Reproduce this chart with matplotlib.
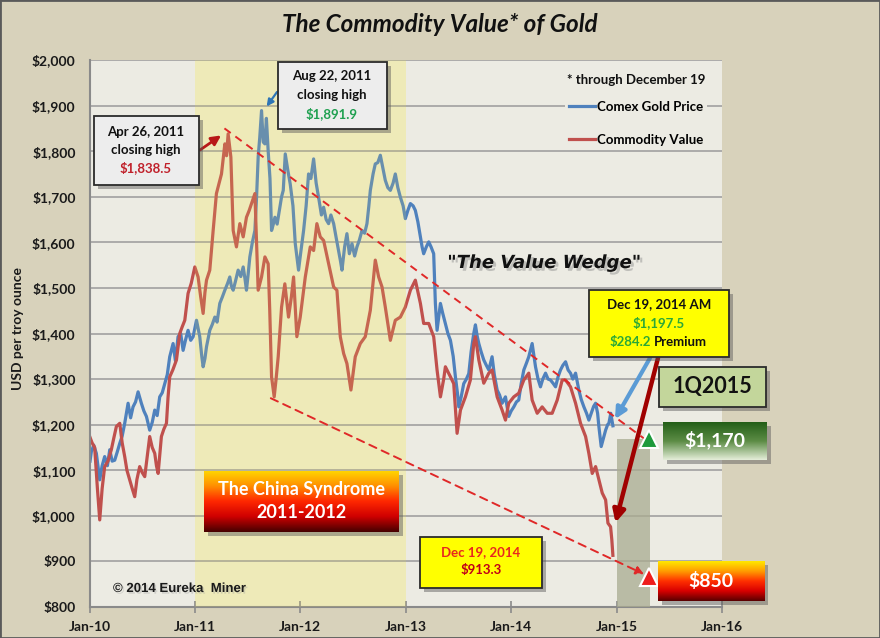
import numpy as np
import matplotlib.pyplot as plt
import matplotlib.patheffects as pe
from matplotlib.patches import Rectangle
from matplotlib.colors import LinearSegmentedColormap

# Comex gold price (decimal year, USD/oz)
gold_t = [2010.005, 2010.017, 2010.04, 2010.065, 2010.097, 2010.12, 2010.144, 2010.17, 2010.192, 2010.215,
          2010.239, 2010.263, 2010.287, 2010.31, 2010.334, 2010.366, 2010.39, 2010.413, 2010.437, 2010.461,
          2010.492, 2010.516, 2010.54, 2010.571, 2010.595, 2010.619, 2010.642, 2010.666, 2010.69, 2010.714,
          2010.738, 2010.761, 2010.793, 2010.815, 2010.84, 2010.865, 2010.888, 2010.91, 2010.935, 2010.96,
          2010.983, 2011.015, 2011.046, 2011.065, 2011.078, 2011.095, 2011.11, 2011.141, 2011.165, 2011.189,
          2011.21, 2011.236, 2011.26, 2011.284, 2011.31, 2011.331, 2011.345, 2011.363, 2011.385, 2011.41,
          2011.435, 2011.458, 2011.475, 2011.489, 2011.505, 2011.521, 2011.545, 2011.569, 2011.585, 2011.6,
          2011.615, 2011.632, 2011.648, 2011.664, 2011.678, 2011.695, 2011.712, 2011.727, 2011.744, 2011.759,
          2011.78, 2011.806, 2011.822, 2011.838, 2011.857, 2011.88, 2011.904, 2011.93, 2011.952, 2011.983,
          2012.005, 2012.031, 2012.055, 2012.078, 2012.1, 2012.126, 2012.15, 2012.173, 2012.2, 2012.221,
          2012.245, 2012.268, 2012.29, 2012.316, 2012.34, 2012.363, 2012.38, 2012.395, 2012.42, 2012.442,
          2012.465, 2012.49, 2012.515, 2012.537, 2012.56, 2012.585, 2012.61, 2012.632, 2012.65, 2012.664,
          2012.69, 2012.711, 2012.735, 2012.759, 2012.785, 2012.806, 2012.83, 2012.854, 2012.88, 2012.901,
          2012.925, 2012.949, 2012.975, 2012.996, 2013.02, 2013.044, 2013.07, 2013.091, 2013.115, 2013.139,
          2013.155, 2013.17, 2013.195, 2013.218, 2013.24, 2013.265, 2013.281, 2013.297, 2013.315, 2013.329,
          2013.35, 2013.376, 2013.4, 2013.424, 2013.45, 2013.471, 2013.49, 2013.503, 2013.525, 2013.55,
          2013.575, 2013.598, 2013.62, 2013.645, 2013.661, 2013.677, 2013.693, 2013.715, 2013.74, 2013.765,
          2013.788, 2013.819, 2013.84, 2013.867, 2013.89, 2013.914, 2013.946, 2013.977, 2014.0, 2014.025,
          2014.05, 2014.072, 2014.095, 2014.12, 2014.145, 2014.167, 2014.199, 2014.231, 2014.255, 2014.278,
          2014.3, 2014.326, 2014.35, 2014.373, 2014.4, 2014.421, 2014.445, 2014.468, 2014.49, 2014.516,
          2014.54, 2014.563, 2014.585, 2014.611, 2014.642, 2014.665, 2014.69, 2014.715, 2014.737, 2014.76,
          2014.782, 2014.801, 2014.82, 2014.832, 2014.854, 2014.875, 2014.896, 2014.915, 2014.927, 2014.945,
          2014.965]
gold_v = [1120, 1140, 1155, 1137, 1079, 1110, 1130, 1110, 1145, 1120,
          1122, 1140, 1159, 1175, 1203, 1247, 1215, 1239, 1250, 1272,
          1247, 1230, 1218, 1188, 1205, 1232, 1220, 1261, 1270, 1290,
          1310, 1349, 1378, 1340, 1393, 1400, 1363, 1385, 1407, 1385,
          1393, 1429, 1393, 1350, 1327, 1345, 1371, 1407, 1420, 1436,
          1425, 1466, 1480, 1495, 1510, 1524, 1505, 1495, 1515, 1539,
          1525, 1546, 1520, 1495, 1530, 1568, 1600, 1626, 1700, 1787,
          1830, 1889, 1820, 1816, 1872, 1800, 1740, 1626, 1640, 1655,
          1640, 1677, 1700, 1714, 1794, 1760, 1728, 1680, 1597, 1539,
          1580, 1626, 1680, 1750, 1740, 1783, 1730, 1699, 1660, 1677,
          1650, 1641, 1660, 1641, 1610, 1582, 1560, 1539, 1590, 1619,
          1575, 1597, 1570, 1590, 1605, 1626, 1620, 1641, 1680, 1714,
          1750, 1772, 1775, 1791, 1760, 1736, 1720, 1714, 1730, 1750,
          1720, 1699, 1680, 1652, 1670, 1685, 1680, 1670, 1645, 1612,
          1590, 1575, 1590, 1601, 1590, 1575, 1466, 1407, 1440, 1466,
          1445, 1422, 1400, 1385, 1350, 1305, 1270, 1239, 1260, 1290,
          1300, 1312, 1360, 1400, 1419, 1395, 1378, 1360, 1342, 1330,
          1320, 1349, 1310, 1276, 1265, 1247, 1261, 1218, 1230, 1239,
          1250, 1254, 1290, 1320, 1335, 1349, 1378, 1327, 1300, 1283,
          1300, 1313, 1300, 1298, 1290, 1283, 1305, 1320, 1330, 1338,
          1320, 1313, 1300, 1313, 1276, 1255, 1239, 1225, 1210, 1225,
          1240, 1247, 1225, 1196, 1152, 1170, 1188, 1200, 1203, 1225,
          1197.5]

# Commodity value of gold (decimal year, USD/oz)
value_t = [2010.002, 2010.025, 2010.049, 2010.075, 2010.097, 2010.12, 2010.144, 2010.175, 2010.207, 2010.23,
           2010.255, 2010.287, 2010.31, 2010.334, 2010.355, 2010.381, 2010.405, 2010.429, 2010.45, 2010.476,
           2010.5, 2010.524, 2010.548, 2010.571, 2010.595, 2010.619, 2010.635, 2010.651, 2010.682, 2010.705,
           2010.73, 2010.745, 2010.761, 2010.79, 2010.825, 2010.856, 2010.88, 2010.904, 2010.935, 2010.965,
           2010.999, 2011.03, 2011.055, 2011.078, 2011.095, 2011.11, 2011.141, 2011.173, 2011.204, 2011.23,
           2011.252, 2011.284, 2011.3, 2011.315, 2011.341, 2011.363, 2011.394, 2011.426, 2011.458, 2011.489,
           2011.515, 2011.537, 2011.569, 2011.585, 2011.6, 2011.632, 2011.664, 2011.695, 2011.71, 2011.727,
           2011.752, 2011.77, 2011.79, 2011.822, 2011.853, 2011.888, 2011.915, 2011.936, 2011.967, 2011.999,
           2012.047, 2012.094, 2012.126, 2012.157, 2012.189, 2012.221, 2012.268, 2012.316, 2012.347, 2012.379,
           2012.411, 2012.442, 2012.48, 2012.521, 2012.569, 2012.616, 2012.664, 2012.711, 2012.743, 2012.775,
           2012.806, 2012.854, 2012.901, 2012.949, 2012.996, 2013.044, 2013.091, 2013.139, 2013.17, 2013.218,
           2013.265, 2013.297, 2013.329, 2013.36, 2013.376, 2013.424, 2013.455, 2013.487, 2013.519, 2013.566,
           2013.613, 2013.645, 2013.661, 2013.693, 2013.74, 2013.788, 2013.819, 2013.867, 2013.914, 2013.946,
           2013.977, 2014.025, 2014.072, 2014.12, 2014.167, 2014.199, 2014.247, 2014.294, 2014.342, 2014.389,
           2014.437, 2014.484, 2014.516, 2014.563, 2014.611, 2014.658, 2014.706, 2014.737, 2014.769, 2014.801,
           2014.832, 2014.864, 2014.896, 2014.918, 2014.943, 2014.955, 2014.965]
value_v = [1174, 1160, 1150, 1060, 991, 1060, 1108, 1120, 1145, 1170,
           1196, 1203, 1160, 1130, 1100, 1079, 1060, 1042, 1080, 1108,
           1095, 1086, 1130, 1174, 1150, 1137, 1110, 1093, 1174, 1190,
           1203, 1260, 1305, 1320, 1342, 1400, 1415, 1429, 1488, 1510,
           1546, 1524, 1480, 1444, 1490, 1517, 1539, 1626, 1707, 1730,
           1750, 1816, 1790, 1838, 1787, 1626, 1590, 1641, 1612, 1655,
           1670, 1685, 1707, 1600, 1495, 1524, 1568, 1553, 1450, 1305,
           1261, 1300, 1349, 1458, 1509, 1436, 1480, 1524, 1393, 1436,
           1524, 1590, 1582, 1641, 1612, 1604, 1553, 1502, 1495, 1393,
           1356, 1334, 1276, 1349, 1378, 1393, 1451, 1561, 1524, 1502,
           1458, 1385, 1429, 1436, 1458, 1495, 1517, 1466, 1422, 1422,
           1393, 1320, 1261, 1300, 1327, 1305, 1290, 1181, 1232, 1261,
           1298, 1378, 1393, 1342, 1291, 1313, 1320, 1261, 1232, 1210,
           1247, 1261, 1269, 1298, 1313, 1254, 1225, 1239, 1225, 1225,
           1254, 1298, 1298, 1283, 1247, 1203, 1174, 1137, 1093, 1108,
           1079, 1050, 1035, 984, 976, 947, 913.3]

years = [2010, 2011, 2012, 2013, 2014, 2015, 2016]
year_labels = ['Jan-10', 'Jan-11', 'Jan-12', 'Jan-13', 'Jan-14', 'Jan-15', 'Jan-16']
price_ticks = list(range(800, 2001, 100))

china_span = (2011.0, 2013.0)
q1_span = (2015.0, 2015.32)
q1_top = 1168
wedge_top = [(2011.28, 1850), (2015.27, 1168)]
wedge_bottom = [(2011.72, 1258), (2015.26, 872)]
target_up = (2015.31, 1168)
target_down = (2015.31, 866)

W, H = 880, 638
FIG_BG = '#d8d2bb'
PLOT_BG = '#ecebe3'
BLUE = '#4f81bd'
RED = '#c0504d'
SANS = ['Lato', 'DejaVu Sans']


def fx(px):
    return px / W


def fy(py):
    return 1 - py / H


def shadow_rect(px0, py0, px1, py1, z=1):
    fig.add_artist(Rectangle((fx(px0 + 4), fy(py1 + 4)), fx(px1 - px0), (py1 - py0) / H,
                             transform=fig.transFigure, facecolor='#555555', alpha=0.45,
                             edgecolor='none', zorder=z))


def plain_box(px0, py0, px1, py1, face):
    shadow_rect(px0, py0, px1, py1)
    fig.add_artist(Rectangle((fx(px0), fy(py1)), fx(px1 - px0), (py1 - py0) / H,
                             transform=fig.transFigure, facecolor=face,
                             edgecolor='#2b2b2b', lw=1.3, zorder=2))


def grad_box(px0, py0, px1, py1, colors):
    shadow_rect(px0, py0, px1, py1, z=4)
    bax = fig.add_axes([fx(px0), fy(py1), fx(px1 - px0), (py1 - py0) / H], zorder=5)
    cmap = LinearSegmentedColormap.from_list('g', colors)
    bax.imshow(np.linspace(0, 1, 100).reshape(-1, 1), aspect='auto', cmap=cmap,
               extent=[0, 1, 0, 1], origin='upper')
    bax.set_axis_off()


def label(px, py, s, color='#111111', size=9.5, ha='center', **kw):
    fig.text(fx(px), fy(py), s, color=color, fontsize=size, ha=ha, va='center',
             family=SANS, fontweight='bold', zorder=10, **kw)


fig = plt.figure(figsize=(W / 100, H / 100), dpi=100, facecolor=FIG_BG)
ax = fig.add_axes([fx(89.5), fy(607), fx(722 - 89.5), (607 - 60) / H])
ax.set_facecolor(PLOT_BG)

ax.axvspan(*china_span, color='#f0eecb', zorder=0.5, lw=0)
gold_line, = ax.plot(gold_t, gold_v, color=BLUE, lw=2.3, zorder=2, label='Comex Gold Price')
value_line, = ax.plot(value_t, value_v, color=RED, lw=2.3, zorder=2, label='Commodity Value')
ax.axvspan(*china_span, color='#e8d860', alpha=0.17, zorder=3, lw=0)

ax.fill_between(q1_span, 800, q1_top, color='#a9ab90', alpha=0.75, zorder=3, lw=0)

ax.plot([p[0] for p in wedge_top], [p[1] for p in wedge_top], color='#e02828', lw=1.4,
        dashes=(4, 3), zorder=4)
ax.annotate('', xy=wedge_bottom[1], xytext=wedge_bottom[0],
            arrowprops=dict(arrowstyle='-|>', color='#e02828', lw=1.4, ls=(0, (4, 3)),
                            mutation_scale=12, shrinkA=0, shrinkB=0), zorder=4)
ax.plot(*target_up, marker='^', ms=13, color='#1e9a3c', mec='white', mew=1.5, zorder=6, clip_on=False)
ax.plot(*target_down, marker='^', ms=13, color='#ee1c1c', mec='white', mew=1.5, zorder=6, clip_on=False)

ax.set_xlim(2010, 2016)
ax.set_ylim(800, 2000)
ax.set_xticks(years)
ax.set_xticklabels(year_labels)
ax.set_yticks(price_ticks)
ax.set_yticklabels(['${:,}'.format(v) for v in price_ticks])
ax.grid(axis='y', color='#9a9a9a', lw=1.1)
ax.set_axisbelow(True)
for side in ['top', 'right']:
    ax.spines[side].set_visible(False)
for side in ['left', 'bottom']:
    ax.spines[side].set_color('#8a8a8a')
    ax.spines[side].set_linewidth(1.5)
ax.tick_params(axis='x', direction='inout', length=8, color='#8a8a8a', width=1.2, pad=6)
ax.tick_params(axis='y', length=0, pad=10)
for t in ax.get_xticklabels() + ax.get_yticklabels():
    t.set_family(SANS)
    t.set_fontweight('bold')
    t.set_fontsize(10)
    t.set_color('#1a1a1a')

leg = ax.legend(handles=[gold_line, value_line], loc='upper right',
                bbox_to_anchor=(fx(714), fy(90)), bbox_transform=fig.transFigure,
                frameon=True, facecolor=PLOT_BG, edgecolor='none', framealpha=1,
                handlelength=2.0, handletextpad=0.15, labelspacing=1.6, borderpad=0.3,
                prop={'family': SANS, 'weight': 'bold', 'size': 9.5})
leg.set_zorder(7)
fig.text(fx(705), fy(80), '* through December 19', ha='right', va='center', fontsize=9.5,
         family=SANS, fontweight='bold', color='#111111')

fig.text(fx(440), fy(24), 'The Commodity Value* of Gold', ha='center', va='center',
         fontsize=17.5, family=SANS, fontweight='bold', style='italic', color='#111111')
fig.text(fx(18), fy(328), 'USD per troy ounce', rotation=90, ha='center', va='center',
         fontsize=10, family=SANS, fontweight='bold', color='#1a1a1a')

fig.text(fx(544), fy(263), '"The Value Wedge"', ha='center', va='center', fontsize=13,
         family='DejaVu Sans', fontweight='bold', style='italic', color='#111111',
         path_effects=[pe.withSimplePatchShadow(offset=(2, -2), shadow_rgbFace='#8a8a8a', alpha=0.45)])
fig.text(fx(113), fy(589), '\u00a9 2014 Eureka  Miner', ha='left', va='center', fontsize=9.5,
         family='Liberation Sans', fontweight='bold', color='#1a1a1a',
         path_effects=[pe.withSimplePatchShadow(offset=(1.2, -1.2), shadow_rgbFace='#9a9a9a', alpha=0.35)])

# call-out boxes
plain_box(94, 116, 199, 185, '#ededed')
label(146, 132, 'Apr 26, 2011')
label(146, 150, 'closing high')
label(146, 168, '$1,838.5', color='#c0202a')
ax.annotate('', xy=(2011.27, 1838), xytext=(fx(200), fy(150)), textcoords='figure fraction',
            arrowprops=dict(arrowstyle='-|>', color='#b81818', lw=2, mutation_scale=14,
                            shrinkA=0, shrinkB=2), zorder=6)

plain_box(278, 62, 387, 129, '#ededed')
label(332, 76, 'Aug 22, 2011')
label(332, 95, 'closing high')
label(332, 114, '$1,891.9', color='#1fa050')
ax.annotate('', xy=(2011.665, 1893), xytext=(fx(277), fy(92)), textcoords='figure fraction',
            arrowprops=dict(arrowstyle='-|>', color='#2e75b6', lw=1.6, mutation_scale=10,
                            shrinkA=0, shrinkB=2), zorder=6)

plain_box(589, 290, 729, 357, '#ffff00')
label(659, 304, 'Dec 19, 2014 AM')
label(659, 323, '$1,197.5', color='#2aa838')
label(651, 342, '$284.2', color='#2aa838', ha='right')
label(654, 342, 'Premium', ha='left')
ax.annotate('', xy=(2014.985, 1212), xytext=(fx(650), fy(358)), textcoords='figure fraction',
            arrowprops=dict(arrowstyle='-|>', color='#5b9bd5', lw=3, mutation_scale=16,
                            shrinkA=0, shrinkB=0), zorder=6)
ax.annotate('', xy=(2014.99, 985), xytext=(fx(658), fy(358)), textcoords='figure fraction',
            arrowprops=dict(arrowstyle='-|>', color='#a00000', lw=3.2, mutation_scale=18,
                            shrinkA=0, shrinkB=0), zorder=6)

plain_box(420, 537, 542, 588, '#ffff00')
label(481, 552, 'Dec 19, 2014', color='#e8281e')
label(481, 570, '$913.3', color='#c00018')

plain_box(659, 367, 766, 407, '#c3d69b')
label(712, 387, '1Q2015', size=15.5)

grad_box(663, 422, 767, 460, ['#245f18', '#5c8c45', '#e4edd8'])
label(715, 440, '$1,170', color='white', size=14)

grad_box(658, 561, 764, 601, ['#ffe800', '#ff9c00', '#ff3000', '#d80000', '#5a0000'])
label(711, 581, '$850', color='white', size=14)

grad_box(204, 471, 399, 532, ['#ffd800', '#ff9000', '#ff2800', '#d00000', '#480000'])
label(301, 489, 'The China Syndrome', color='white', size=13)
label(301, 513, '2011-2012', color='white', size=13)

fig.add_artist(Rectangle((0, 0), 1, 1, transform=fig.transFigure, fill=False,
                         edgecolor='#5a5a5a', lw=2, zorder=20))

fig.savefig('out.png', dpi=100, facecolor=FIG_BG)
